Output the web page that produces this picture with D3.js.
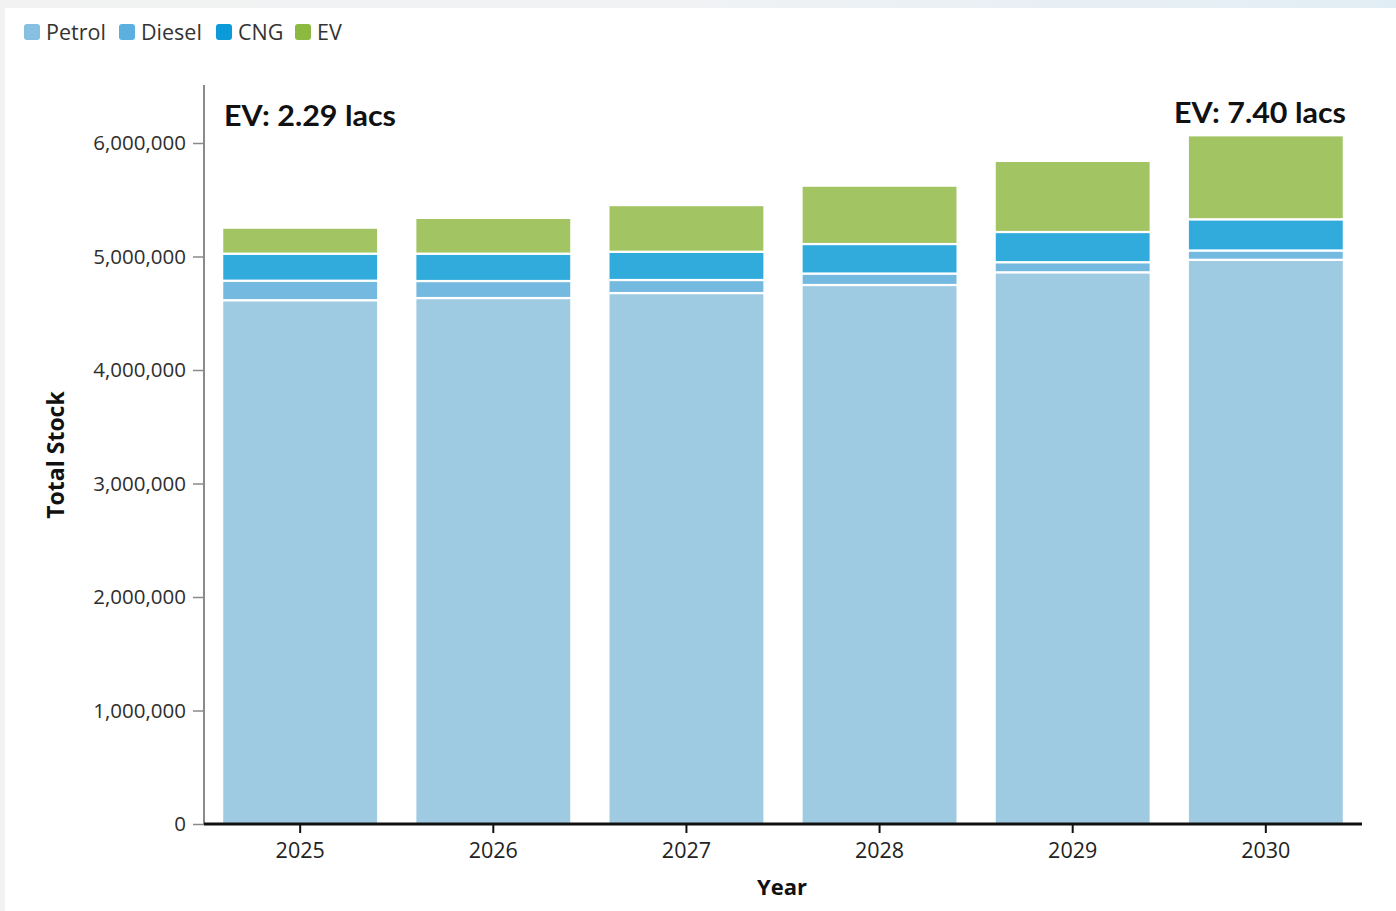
<!DOCTYPE html>
<html>
<head>
<meta charset="utf-8">
<script src="https://cdn.jsdelivr.net/npm/d3@7"></script>
<style>
  html, body { margin: 0; padding: 0; background: #ffffff; }
  svg { display: block; }
</style>
</head>
<body>
<svg id="chart" width="1396" height="911"></svg>
<script>
// Vehicle stock projection by fuel type
const years = ["2025", "2026", "2027", "2028", "2029", "2030"];
const fuels = ["Petrol", "Diesel", "CNG", "EV"];
const petrol = [4615000, 4634000, 4678000, 4749000, 4861000, 4971000];
const diesel = [172000, 150000, 115000, 101000, 89000, 82000];
const cng    = [238000, 241000, 249000, 260000, 266000, 275000];
const ev     = [229000, 315000, 411000, 514000, 626000, 740000];
const yTicks = [0, 1000000, 2000000, 3000000, 4000000, 5000000, 6000000];

const barColors    = { Petrol: "#9ecae2", Diesel: "#74b9df", CNG: "#30abdc", EV: "#a2c463" };
const legendColors = { Petrol: "#86bfe0", Diesel: "#5cb0e0", CNG: "#0a9bd8", EV: "#8cb940" };

const rows = years.map((y, i) => ({
  year: y, Petrol: petrol[i], Diesel: diesel[i], CNG: cng[i], EV: ev[i]
}));

const svg = d3.select("#chart");
const W = 1396, H = 911;

// page frame: grey left edge and tinted top strip
const defs = svg.append("defs");
const grad = defs.append("linearGradient").attr("id", "topStrip")
  .attr("x1", "0%").attr("x2", "100%").attr("y1", "0%").attr("y2", "0%");
grad.append("stop").attr("offset", "0%").attr("stop-color", "#f2f2f2");
grad.append("stop").attr("offset", "50%").attr("stop-color", "#f0f2f4");
grad.append("stop").attr("offset", "100%").attr("stop-color", "#e1edf4");
svg.append("rect").attr("x", 0).attr("y", 0).attr("width", W).attr("height", H).attr("fill", "#ffffff");
svg.append("rect").attr("x", 0).attr("y", 0).attr("width", 5).attr("height", H).attr("fill", "#f2f2f2");
svg.append("rect").attr("x", 0).attr("y", 0).attr("width", W).attr("height", 8).attr("fill", "url(#topStrip)");

const plotLeft = 204, plotRight = 1362, plotTop = 85, plotBottom = 824;

const x = d3.scaleBand().domain(years).range([plotLeft, plotRight])
  .paddingInner(0.192).paddingOuter(0.094);
const y = d3.scaleLinear()
  .domain([0, 6000000 * (plotBottom - plotTop) / (plotBottom - 143)])
  .range([plotBottom, plotTop]);

const stacked = d3.stack().keys(fuels)(rows);

// stacked bars
const g = svg.append("g");
g.selectAll("g.layer").data(stacked).join("g")
  .attr("class", "layer")
  .attr("fill", d => barColors[d.key])
  .selectAll("rect").data(d => d).join("rect")
  .attr("x", d => x(d.data.year))
  .attr("width", x.bandwidth())
  .attr("y", d => y(d[1]))
  .attr("height", d => y(d[0]) - y(d[1]))
  .attr("stroke", "#ffffff")
  .attr("stroke-width", 2.2);

// y axis
const yAxis = svg.append("g").attr("transform", `translate(${plotLeft},0)`)
  .call(d3.axisLeft(y).tickValues(yTicks).tickSize(11).tickPadding(7).tickFormat(d3.format(",")));
yAxis.select(".domain").attr("stroke", "#8a8a8a").attr("stroke-width", 2)
  .attr("d", `M0,${plotTop}V${plotBottom}`);
yAxis.selectAll(".tick line").attr("stroke", "#8a8a8a").attr("stroke-width", 1.5);
yAxis.selectAll(".tick text").attr("fill", "#2e2e2e")
  .style("font-family", "'Open Sans', sans-serif").style("font-size", "20.5px");

// x axis
const xAxis = svg.append("g").attr("transform", `translate(0,${plotBottom})`)
  .call(d3.axisBottom(x).tickSize(9).tickPadding(10));
xAxis.select(".domain").attr("stroke", "#111111").attr("stroke-width", 3)
  .attr("d", `M${plotLeft},0H${plotRight}`);
xAxis.selectAll(".tick line").attr("stroke", "#111111").attr("stroke-width", 2);
xAxis.selectAll(".tick text").attr("fill", "#222222")
  .style("font-family", "'Open Sans', sans-serif").style("font-size", "21.5px");

// axis titles
svg.append("text").attr("x", 782).attr("y", 895).attr("text-anchor", "middle")
  .style("font-family", "'Open Sans', sans-serif").style("font-weight", 700).style("font-size", "22px")
  .attr("fill", "#111111").text("Year");
svg.append("text").attr("transform", "translate(64,455) rotate(-90)").attr("text-anchor", "middle")
  .style("font-family", "'Open Sans', sans-serif").style("font-weight", 700).style("font-size", "23px")
  .attr("fill", "#111111").text("Total Stock");

// EV annotations
const fmtLacs = v => "EV: " + (v / 100000).toFixed(2) + " lacs";
svg.append("text").attr("x", 224).attr("y", 126)
  .style("font-family", "Lato, sans-serif").style("font-weight", 700).style("font-size", "28px")
  .attr("fill", "#111111").attr("textLength", 172).attr("lengthAdjust", "spacingAndGlyphs")
  .text(fmtLacs(ev[0]));
svg.append("text").attr("x", 1346).attr("y", 123).attr("text-anchor", "end")
  .style("font-family", "Lato, sans-serif").style("font-weight", 700).style("font-size", "28px")
  .attr("fill", "#111111").attr("textLength", 172).attr("lengthAdjust", "spacingAndGlyphs")
  .text(fmtLacs(ev[ev.length - 1]));

// legend
const legendX = [24, 119, 216, 295];
const legend = svg.append("g");
fuels.forEach((f, i) => {
  legend.append("rect").attr("x", legendX[i]).attr("y", 24).attr("width", 16).attr("height", 16)
    .attr("rx", 3).attr("fill", legendColors[f]);
  legend.append("text").attr("x", legendX[i] + 22).attr("y", 40)
    .style("font-family", "'Open Sans', sans-serif").style("font-size", "21.5px")
    .attr("fill", "#333333").text(f);
});
</script>
</body>
</html>
